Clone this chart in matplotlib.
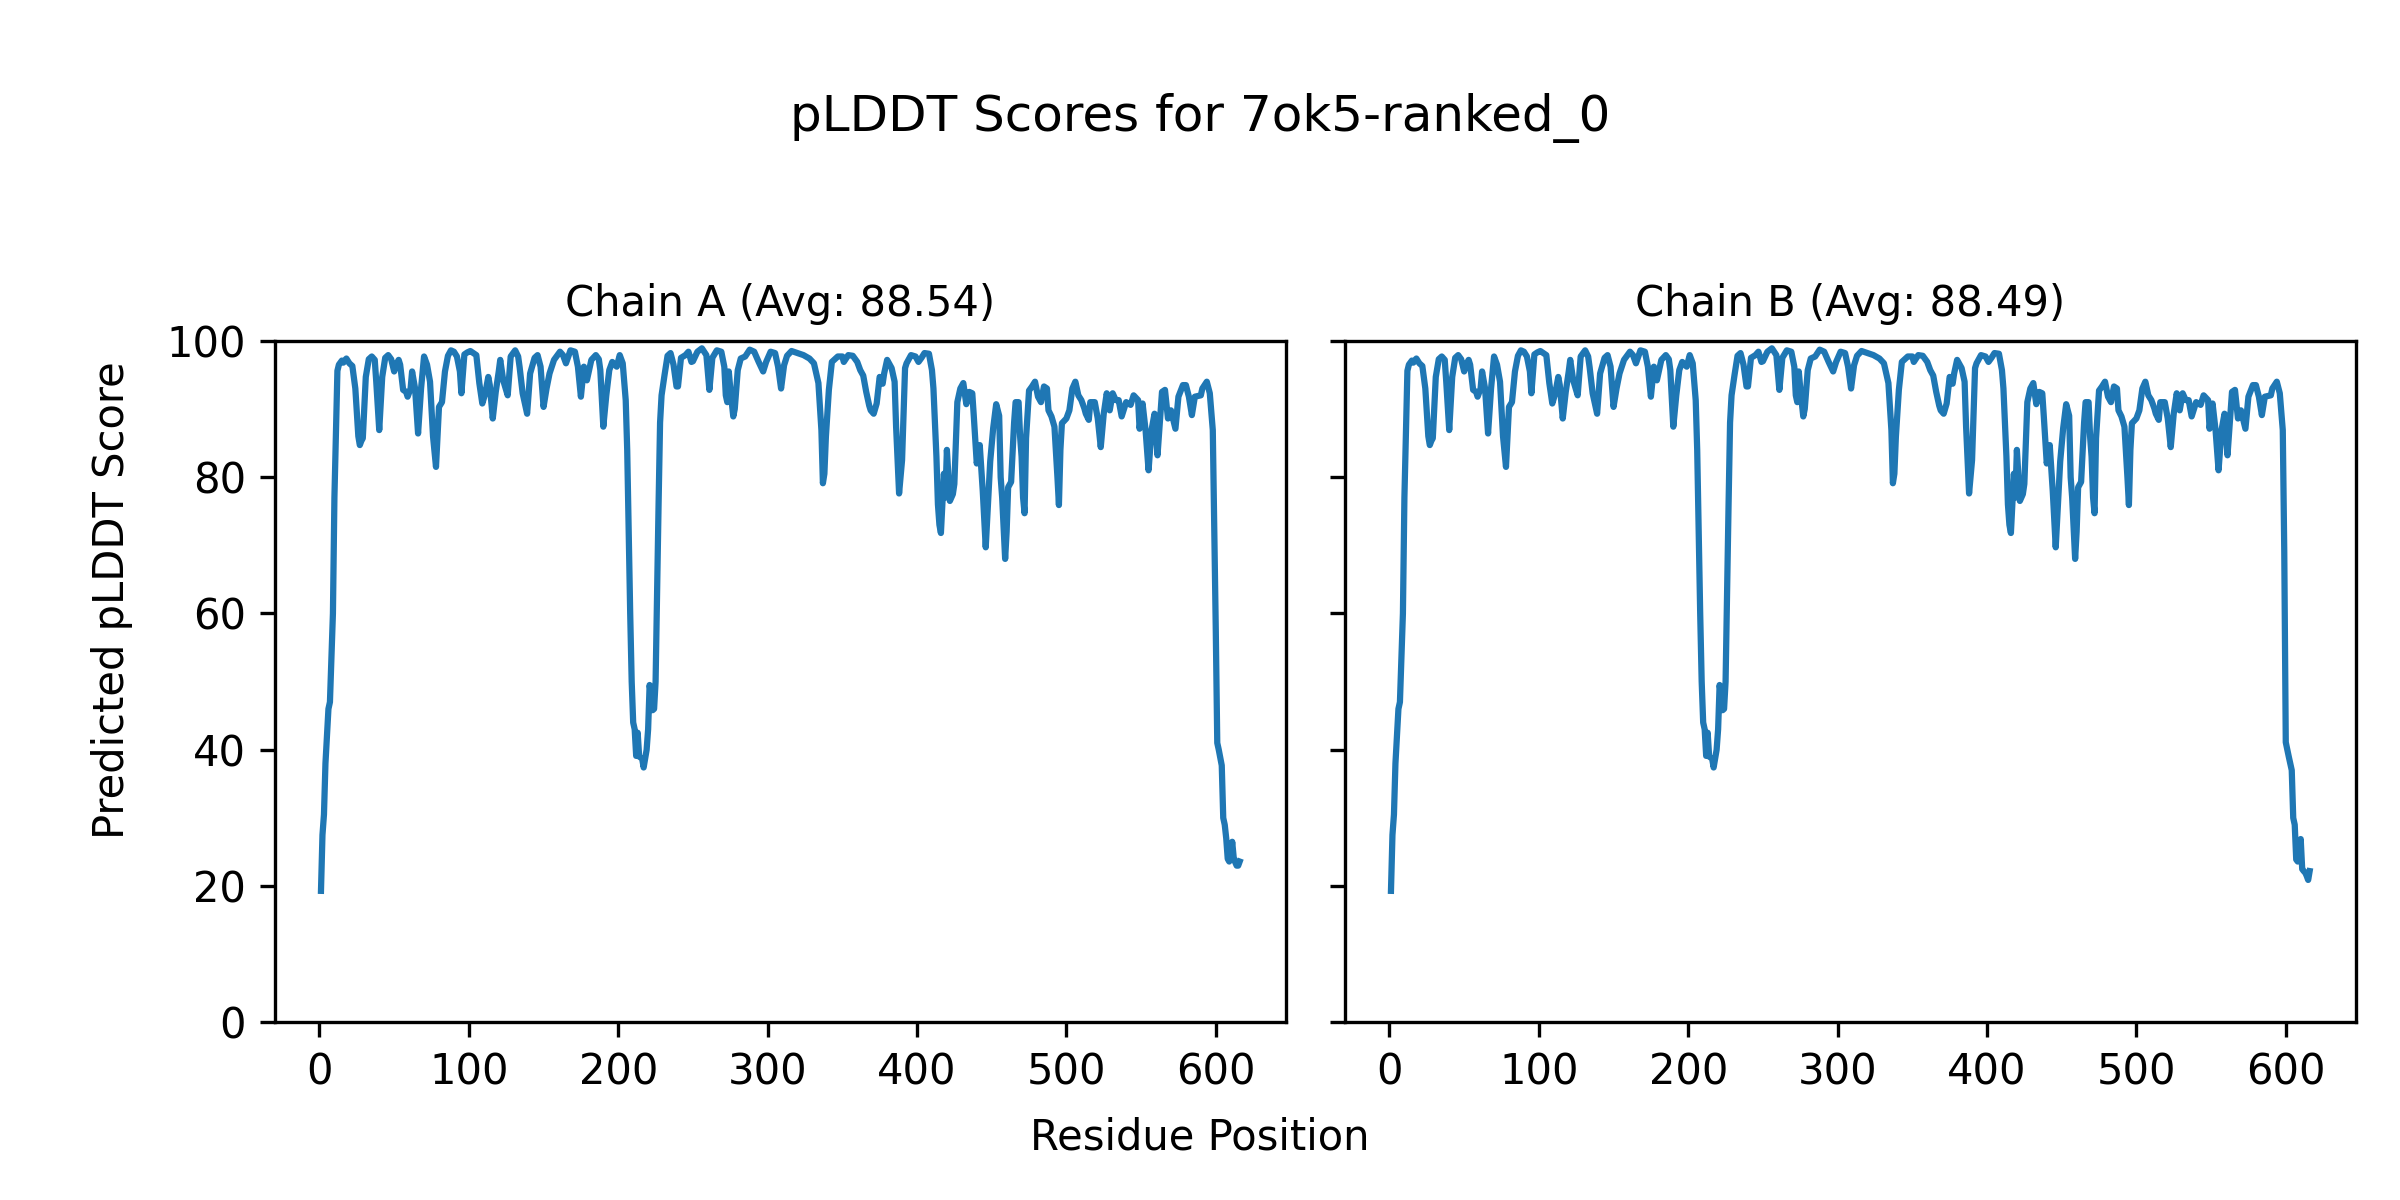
import matplotlib
matplotlib.use("Agg")
import matplotlib.pyplot as plt

# ---- data ----
model_name = "7ok5-ranked_0"
chains = ["A", "B"]
chain_avgs = [88.54, 88.49]

# shared body of both chains (residue, pLDDT) up to residue 598
core_res = [1, 2, 3, 4, 6, 7, 9, 10, 12, 13, 15, 16, 18, 20, 22, 24, 26, 27, 28, 29,
            31, 33, 35, 37, 38, 40, 42, 44, 46, 48, 50, 52, 53, 54, 56, 58, 59, 61, 62, 64,
            66, 68, 70, 72, 74, 76, 78, 80, 82, 84, 86, 88, 90, 92, 94, 95, 97, 99, 101, 103,
            105, 107, 109, 111, 113, 114, 116, 118, 120, 121, 123, 126, 128, 131, 133, 134, 136, 139, 141, 144,
            146, 148, 150, 152, 154, 157, 161, 163, 165, 168, 171, 173, 175, 177, 179, 182, 185, 187, 188, 190,
            192, 194, 196, 199, 201, 203, 205, 206, 207, 208, 209, 210, 211, 212, 213, 214, 216, 217, 219, 220,
            221, 222, 223, 224, 225, 226, 227, 228, 229, 231, 233, 235, 237, 239, 240, 242, 245, 247, 249, 250,
            253, 256, 259, 261, 263, 266, 269, 271, 272, 273, 274, 275, 277, 278, 280, 282, 285, 288, 291, 294,
            297, 299, 302, 305, 307, 309, 311, 313, 316, 320, 324, 328, 331, 334, 336, 337, 338, 339, 341, 343,
            347, 350, 351, 354, 357, 360, 362, 364, 366, 368, 369, 371, 373, 375, 377, 378, 380, 383, 385, 386,
            388, 390, 392, 393, 396, 399, 401, 403, 405, 408, 410, 411, 413, 414, 415, 416, 418, 419, 420, 422,
            424, 425, 427, 429, 431, 433, 435, 437, 438, 440, 442, 444, 446, 448, 449, 451, 453, 455, 456, 457,
            459, 460, 461, 463, 465, 466, 468, 469, 470, 471, 472, 473, 475, 477, 479, 481, 483, 485, 487, 488,
            490, 492, 494, 495, 496, 497, 500, 502, 504, 506, 508, 510, 512, 513, 515, 516, 519, 521, 523, 525,
            527, 529, 531, 533, 535, 537, 540, 543, 545, 548, 549, 551, 553, 555, 557, 559, 561, 564, 566, 568,
            570, 573, 575, 578, 580, 582, 584, 586, 590, 591, 594, 596, 598]
core_score = [19.3, 27.5, 30.5, 38.0, 46.0, 47.0, 60.0, 77.0, 95.6, 96.5, 97.1, 96.8, 97.4, 96.7, 96.3, 93.0, 86.0, 84.7, 85.3, 85.7,
              94.7, 97.3, 97.7, 97.2, 94.0, 86.9, 94.7, 97.5, 97.9, 97.3, 95.5, 96.8, 97.2, 96.5, 92.8, 92.5, 91.8, 93.0, 95.5, 93.0,
              86.4, 93.0, 97.7, 96.5, 94.0, 86.0, 81.5, 90.3, 91.0, 95.5, 97.8, 98.6, 98.4, 97.7, 95.5, 92.3, 98.0, 98.3, 98.5, 98.2,
              97.9, 93.8, 90.8, 92.3, 94.7, 93.5, 88.6, 92.5, 95.5, 97.2, 94.2, 92.0, 97.7, 98.6, 97.7, 96.1, 92.3, 89.3, 95.2, 97.5,
              97.9, 96.2, 90.3, 93.0, 95.2, 97.2, 98.4, 97.9, 96.7, 98.6, 98.4, 96.2, 91.8, 96.2, 94.2, 97.2, 97.9, 97.3, 95.7, 87.4,
              92.0, 95.7, 96.9, 96.2, 97.9, 96.7, 91.3, 84.0, 72.0, 60.0, 50.0, 44.0, 43.0, 39.1, 42.5, 39.0, 38.7, 37.4, 40.0, 43.0,
              49.5, 48.0, 45.8, 46.0, 50.0, 63.0, 76.0, 88.0, 92.0, 95.0, 97.8, 98.2, 96.5, 93.3, 93.3, 97.5, 97.9, 98.4, 96.9, 97.0,
              98.4, 98.9, 97.9, 92.8, 97.5, 98.6, 98.4, 96.2, 92.0, 91.0, 95.5, 93.0, 88.9, 90.0, 95.7, 97.4, 97.7, 98.7, 98.4, 96.9,
              95.5, 96.9, 98.4, 98.2, 96.2, 93.0, 96.4, 97.8, 98.5, 98.2, 97.9, 97.4, 96.7, 93.8, 86.9, 79.1, 80.5, 85.9, 92.8, 96.9,
              97.7, 97.7, 96.9, 97.9, 97.8, 96.9, 95.7, 94.9, 92.5, 90.5, 89.8, 89.3, 90.8, 94.7, 93.7, 95.2, 97.2, 96.0, 94.0, 87.4,
              77.6, 82.5, 96.0, 96.7, 97.9, 97.7, 96.9, 97.5, 98.2, 98.1, 95.7, 93.0, 83.0, 76.0, 73.0, 71.8, 80.5, 77.0, 84.0, 76.5,
              77.5, 79.0, 91.0, 93.0, 93.8, 90.7, 92.5, 92.3, 89.0, 82.0, 84.7, 78.0, 69.7, 78.0, 82.3, 87.2, 90.7, 89.0, 80.0, 77.0,
              68.0, 72.0, 78.5, 79.3, 88.0, 91.0, 91.0, 86.0, 83.0, 77.0, 74.7, 85.7, 92.7, 93.3, 94.0, 91.8, 91.0, 93.3, 93.0, 89.8,
              88.9, 87.4, 80.0, 75.9, 84.0, 87.9, 88.6, 89.8, 93.0, 94.0, 92.0, 91.3, 90.1, 89.3, 88.4, 91.0, 91.0, 88.6, 84.4, 89.3,
              92.3, 89.8, 92.3, 91.3, 91.3, 88.9, 91.0, 90.6, 92.0, 91.3, 87.1, 90.8, 86.9, 81.0, 86.9, 89.3, 83.2, 92.5, 92.8, 88.6,
              89.8, 87.1, 91.8, 93.5, 93.5, 91.8, 89.1, 91.8, 92.0, 93.0, 94.0, 92.3, 86.9]

# C-terminal tails differ between chains
tail_a_res = [599, 600, 601, 602, 604, 605, 606, 607, 608, 609, 610, 611, 612, 613, 614, 615, 616]
tail_a_score = [72.0, 57.6, 41.0, 40.0, 37.7, 30.0, 29.0, 27.0, 24.0, 23.6, 24.0, 26.5, 24.2, 23.5, 23.0, 23.0, 23.6]
tail_b_res = [599, 600, 602, 604, 605, 606, 607, 608, 609, 610, 611, 612, 613, 614, 615, 616]
tail_b_score = [69.0, 41.1, 39.0, 37.0, 30.0, 29.0, 23.9, 23.6, 24.0, 26.9, 22.5, 22.2, 22.0, 21.5, 20.9, 22.2]

chain_res = [core_res + tail_a_res, core_res + tail_b_res]
chain_score = [core_score + tail_a_score, core_score + tail_b_score]

# ---- figure ----
fig, axes = plt.subplots(1, 2, figsize=(8, 4), dpi=300, sharey=True)
fig.subplots_adjust(left=0.1146, right=0.9815, bottom=0.148, top=0.716, wspace=0.0588)

for ax, name, avg, xs, ys in zip(axes, chains, chain_avgs, chain_res, chain_score):
    ax.plot(xs, ys, color="#1f77b4", linewidth=1.5)
    ax.set_title(f"Chain {name} (Avg: {avg:.2f})", fontsize=10)
    ax.set_ylim(0, 100)
    ax.set_xticks([0, 100, 200, 300, 400, 500, 600])

fig.suptitle(f"pLDDT Scores for {model_name}", fontsize=12, y=0.9017, va="center")
fig.supxlabel("Residue Position", fontsize=10, y=0.0525, va="center")
fig.supylabel("Predicted pLDDT Score", fontsize=10, x=0.0467, ha="center")

fig.savefig("out.png", dpi=300)
